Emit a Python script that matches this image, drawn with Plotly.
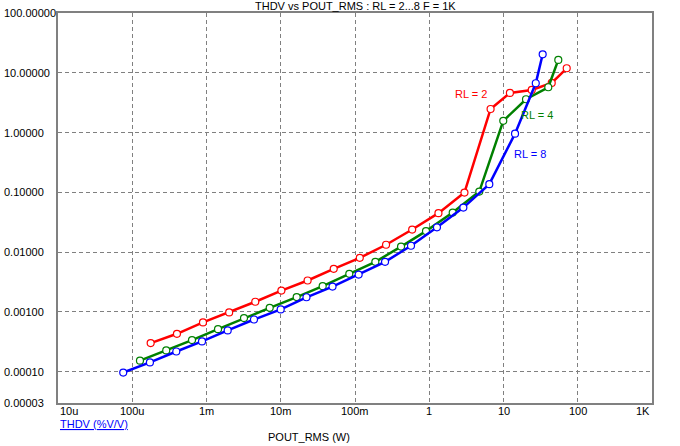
import math

import plotly.graph_objects as go

# POUT_RMS (W) / THDV (%V/V)
rl2_pout = [1.77e-4, 4.0e-4, 8.97e-4, 2.02e-3, 4.54e-3, 1.02e-2, 2.30e-2, 5.17e-2,
            0.116, 0.262, 0.589, 1.33, 2.98, 6.7, 12.2, 24.0, 44.6, 71.0]
rl2_thdv = [3.01e-4, 4.31e-4, 6.67e-4, 9.8e-4, 1.48e-3, 2.28e-3, 3.36e-3, 5.26e-3,
            8.04e-3, 1.33e-2, 2.39e-2, 4.49e-2, 0.0993, 2.48, 4.6, 5.16, 6.76, 11.9]

rl4_pout = [1.27e-4, 2.87e-4, 6.38e-4, 1.43e-3, 3.20e-3, 7.10e-3, 1.64e-2, 3.67e-2,
            8.38e-2, 0.188, 0.417, 0.904, 2.07, 4.72, 9.93, 20.1, 40.1, 54.7]
rl4_thdv = [1.53e-4, 2.27e-4, 3.39e-4, 5.16e-4, 7.89e-4, 1.17e-3, 1.77e-3, 2.70e-3,
            4.34e-3, 6.89e-3, 1.24e-2, 2.25e-2, 4.59e-2, 0.103, 1.57, 3.61, 5.73, 16.4]

rl8_pout = [7.56e-5, 1.73e-4, 3.92e-4, 8.70e-4, 1.93e-3, 4.36e-3, 9.98e-3, 2.22e-2,
            4.98e-2, 0.112, 0.254, 0.568, 1.27, 2.88, 6.44, 14.3, 27.2, 33.7]
rl8_thdv = [9.7e-5, 1.43e-4, 2.18e-4, 3.21e-4, 4.90e-4, 7.48e-4, 1.10e-3, 1.76e-3,
            2.66e-3, 4.21e-3, 6.89e-3, 1.28e-2, 2.60e-2, 5.57e-2, 0.137, 0.96, 6.68, 20.4]

x_tick_vals = [1e-5, 1e-4, 1e-3, 1e-2, 1e-1, 1, 10, 100, 1000]
x_tick_text = ['10u', '100u', '1m', '10m', '100m', '1', '10', '100', '1K']
y_tick_vals = [100, 10, 1, 0.1, 0.01, 0.001, 0.0001, 0.00003]
y_tick_text = ['100.00000', '10.00000', '1.00000', '0.10000', '0.01000',
               '0.00100', '0.00010', '0.00003']

FONT = 'Liberation Sans, Arial, sans-serif'
GRAY = '#808080'

series = [
    ('RL = 2', rl2_pout, rl2_thdv, '#ff0000'),
    ('RL = 4', rl4_pout, rl4_thdv, '#008000'),
    ('RL = 8', rl8_pout, rl8_thdv, '#0000ff'),
]

data = []
for name, xs, ys, color in series:
    data.append(
        go.Scatter(
            x=xs,
            y=ys,
            mode='lines+markers',
            name=name,
            line=dict(color=color, width=2.5),
            marker=dict(symbol='circle', size=7, color='white',
                        line=dict(color=color, width=1.2)),
            showlegend=False,
        )
    )

fig = go.Figure(data=data)

# plot area in pixels: x 58..652, y 13..403
L, R, T, B = 58, 652, 13, 403


def px(x):
    return (x - L) / (R - L)


def py(y):
    return (B - y) / (B - T)


annotations = []
for v, t in zip(y_tick_vals, y_tick_text):
    annotations.append(dict(
        text=t, xref='paper', x=px(2), xanchor='left',
        yref='y', y=math.log10(v), yanchor='middle',
        showarrow=False, font=dict(size=11, color='black', family=FONT),
    ))
for i, (v, t) in enumerate(zip(x_tick_vals, x_tick_text)):
    anchor = 'left' if i == 0 else ('right' if i == len(x_tick_vals) - 1 else 'center')
    annotations.append(dict(
        text=t, xref='x', x=math.log10(v), xanchor=anchor,
        yref='paper', y=py(411), yanchor='middle',
        showarrow=False, font=dict(size=11, color='black', family=FONT),
    ))

# curve labels
for text, x0, y0, color in [('RL = 2', 453, 94, '#ff0000'),
                            ('RL = 4', 519, 115, '#008000'),
                            ('RL = 8', 512, 154, '#0000ff')]:
    annotations.append(dict(
        text=text, xref='paper', x=px(x0), xanchor='left',
        yref='paper', y=py(y0), yanchor='middle',
        showarrow=False, font=dict(size=11, color=color, family=FONT),
    ))

annotations.append(dict(
    text='THDV vs POUT_RMS : RL = 2...8 F = 1K', xref='paper', x=0.5, xanchor='center',
    yref='paper', y=py(6), yanchor='middle',
    showarrow=False, font=dict(size=11, color='black', family=FONT),
))
annotations.append(dict(
    text='<u>THDV (%V/V)</u>', xref='paper', x=px(58), xanchor='left',
    yref='paper', y=py(424), yanchor='middle',
    showarrow=False, font=dict(size=11, color='#0000ff', family=FONT),
))
annotations.append(dict(
    text='POUT_RMS (W)', xref='paper', x=px(266), xanchor='left',
    yref='paper', y=py(437), yanchor='middle',
    showarrow=False, font=dict(size=11, color='black', family=FONT),
))

fig.update_layout(
    width=680,
    height=446,
    margin=dict(l=L, r=680 - R, t=T, b=446 - B),
    paper_bgcolor='white',
    plot_bgcolor='white',
    font=dict(family=FONT, size=11, color='black'),
    annotations=annotations,
    xaxis=dict(
        type='log', range=[-5, 3], dtick=1, showticklabels=False, ticks='',
        showgrid=True, gridcolor=GRAY, griddash='4px,3px', gridwidth=1,
        showline=True, linecolor=GRAY, linewidth=2, mirror=True, zeroline=False,
    ),
    yaxis=dict(
        type='log', range=[math.log10(0.00003), 2], dtick=1, showticklabels=False, ticks='',
        showgrid=True, gridcolor=GRAY, griddash='4px,3px', gridwidth=1,
        showline=True, linecolor=GRAY, linewidth=2, mirror=True, zeroline=False,
    ),
)

# page body has an 8px default margin; drop it so the chart sits at 0,0
fig.write_html('out.html', config=dict(displayModeBar=False),
               post_script="document.body.style.margin='0px';")
